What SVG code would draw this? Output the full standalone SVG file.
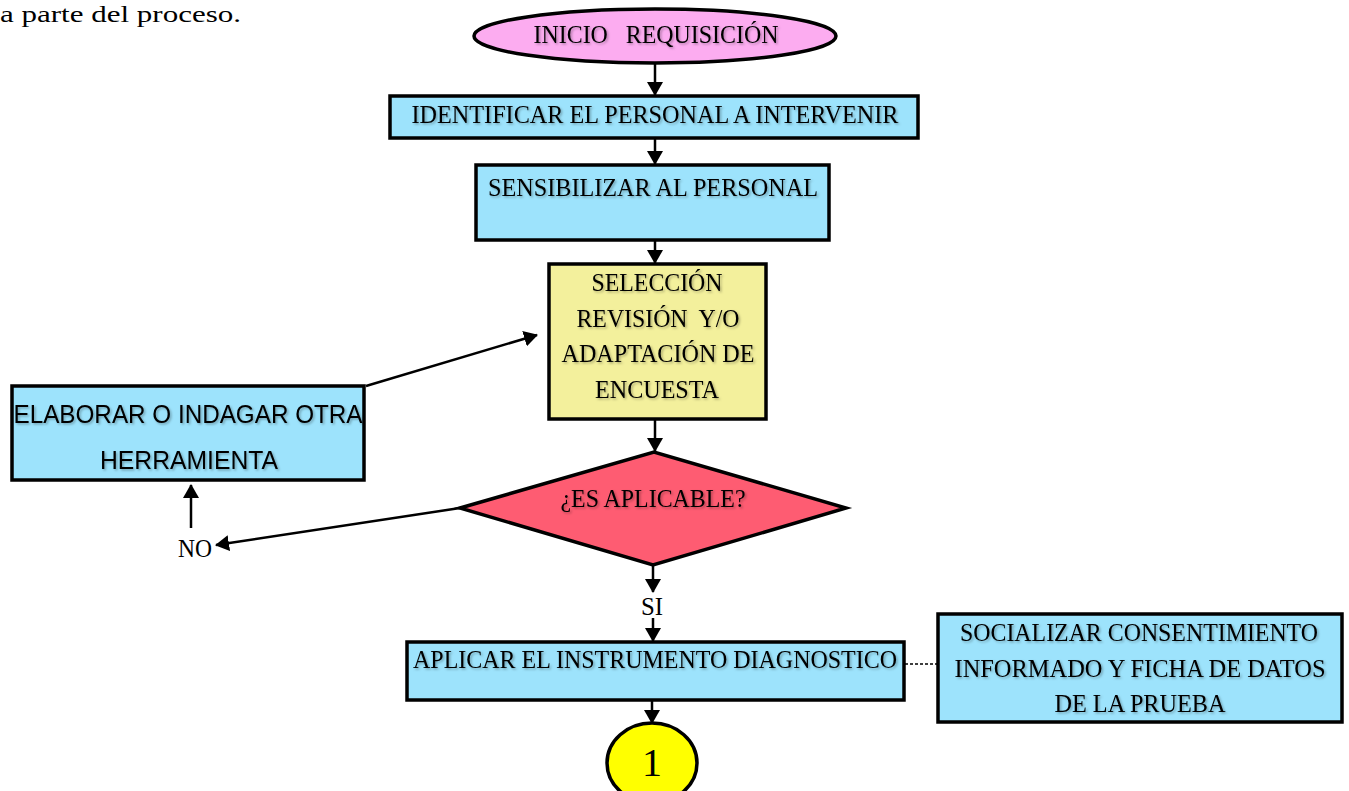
<svg xmlns="http://www.w3.org/2000/svg" width="1349" height="791" viewBox="0 0 1349 791">
<defs>
<marker id="ah" markerWidth="14" markerHeight="16" refX="13" refY="8" orient="auto" markerUnits="userSpaceOnUse">
<path d="M0,0 L14,8 L0,16 Z" fill="#000"/>
</marker>
<filter id="sh" x="-5%" y="-20%" width="110%" height="140%">
<feDropShadow dx="1.5" dy="1.5" stdDeviation="1" flood-color="#000" flood-opacity="0.3"/>
</filter>
<style>
.s{font-family:"Liberation Serif","Times New Roman",serif;font-size:25px;fill:#000;text-anchor:middle}
.sh{filter:url(#sh)}
.ss{font-family:"Liberation Sans",Arial,sans-serif;font-size:26px;fill:#000;text-anchor:middle}
.b{stroke:#000;stroke-width:3.5}
.blue{fill:#9DE3FC}
.c{stroke:#000;stroke-width:2.5;fill:none;marker-end:url(#ah)}
</style>
</defs>
<rect width="1349" height="791" fill="#fff"/>
<text x="0" y="22" font-family="Liberation Serif,serif" font-size="24" fill="#000" textLength="241" lengthAdjust="spacingAndGlyphs">a parte del proceso.</text>

<g id="connectors">
<line class="c" x1="655" y1="64" x2="655" y2="95"/>
<line class="c" x1="655" y1="139" x2="655" y2="164"/>
<line class="c" x1="655" y1="241" x2="655" y2="263"/>
<line class="c" x1="655" y1="420" x2="655" y2="451"/>
<line class="c" x1="653" y1="566" x2="653" y2="592"/>
<line class="c" x1="653" y1="618" x2="653" y2="641"/>
<line class="c" x1="652" y1="701" x2="652" y2="723"/>
<line class="c" x1="366" y1="386" x2="537" y2="335"/>
<line class="c" x1="460" y1="508" x2="216" y2="545"/>
<line class="c" x1="191" y1="528" x2="191" y2="485"/>
<line x1="905" y1="664" x2="937" y2="664" stroke="#000" stroke-width="1.3" stroke-dasharray="3,2"/>
</g>

<g id="inicio">
<ellipse cx="655" cy="36" rx="181" ry="27" fill="#FCACF0" class="b"/>
<text class="s sh" x="656" y="43" textLength="245" lengthAdjust="spacingAndGlyphs" xml:space="preserve">INICIO   REQUISICIÓN</text>
</g>

<g id="identificar">
<rect x="390" y="96" width="528" height="42" class="b blue"/>
<text class="s sh" x="655" y="123" textLength="487" lengthAdjust="spacingAndGlyphs">IDENTIFICAR EL PERSONAL A INTERVENIR</text>
</g>

<g id="sensibilizar">
<rect x="476" y="165" width="353" height="75" class="b blue"/>
<text class="s sh" x="653" y="196" textLength="330" lengthAdjust="spacingAndGlyphs">SENSIBILIZAR AL PERSONAL</text>
</g>

<g id="seleccion">
<rect x="549" y="264" width="217" height="155" fill="#F3F09C" class="b"/>
<text class="s sh" x="657" y="291" textLength="131" lengthAdjust="spacingAndGlyphs">SELECCIÓN</text>
<text class="s sh" x="658" y="327" textLength="163" lengthAdjust="spacingAndGlyphs" xml:space="preserve">REVISIÓN  Y/O</text>
<text class="s sh" x="658" y="362" textLength="193" lengthAdjust="spacingAndGlyphs">ADAPTACIÓN DE</text>
<text class="s sh" x="657" y="398" textLength="124" lengthAdjust="spacingAndGlyphs">ENCUESTA</text>
</g>

<g id="aplicable">
<polygon points="460,508 654,452 846,508 653,565" fill="#FE5C72" class="b" stroke-linejoin="miter"/>
<text class="s sh" x="653" y="507" textLength="185" lengthAdjust="spacingAndGlyphs">¿ES APLICABLE?</text>
</g>

<g id="elaborar">
<rect x="12" y="386" width="352" height="94" class="b blue"/>
<text class="ss sh" x="188" y="423" textLength="349" lengthAdjust="spacingAndGlyphs">ELABORAR O INDAGAR OTRA</text>
<text class="ss sh" x="189" y="469" textLength="178" lengthAdjust="spacingAndGlyphs">HERRAMIENTA</text>
</g>

<g id="no-label">
<text class="s" x="195" y="557" textLength="34" lengthAdjust="spacingAndGlyphs">NO</text>
</g>
<g id="si-label">
<text class="s" x="652" y="615" textLength="22" lengthAdjust="spacingAndGlyphs">SI</text>
</g>

<g id="aplicar">
<rect x="407" y="642" width="497" height="58" class="b blue"/>
<text class="s sh" x="655" y="668" textLength="484" lengthAdjust="spacingAndGlyphs">APLICAR EL INSTRUMENTO DIAGNOSTICO</text>
</g>

<g id="socializar">
<rect x="938" y="614" width="404" height="108" class="b blue"/>
<text class="s sh" x="1139" y="641" textLength="358" lengthAdjust="spacingAndGlyphs">SOCIALIZAR CONSENTIMIENTO</text>
<text class="s sh" x="1140" y="677" textLength="371" lengthAdjust="spacingAndGlyphs">INFORMADO Y FICHA DE DATOS</text>
<text class="s sh" x="1140" y="712" textLength="171" lengthAdjust="spacingAndGlyphs">DE LA PRUEBA</text>
</g>

<g id="conector1">
<ellipse cx="652" cy="763" rx="45" ry="40" fill="#FFFF00" class="b"/>
<text class="s" x="652" y="776" style="font-size:40px">1</text>
</g>
</svg>
